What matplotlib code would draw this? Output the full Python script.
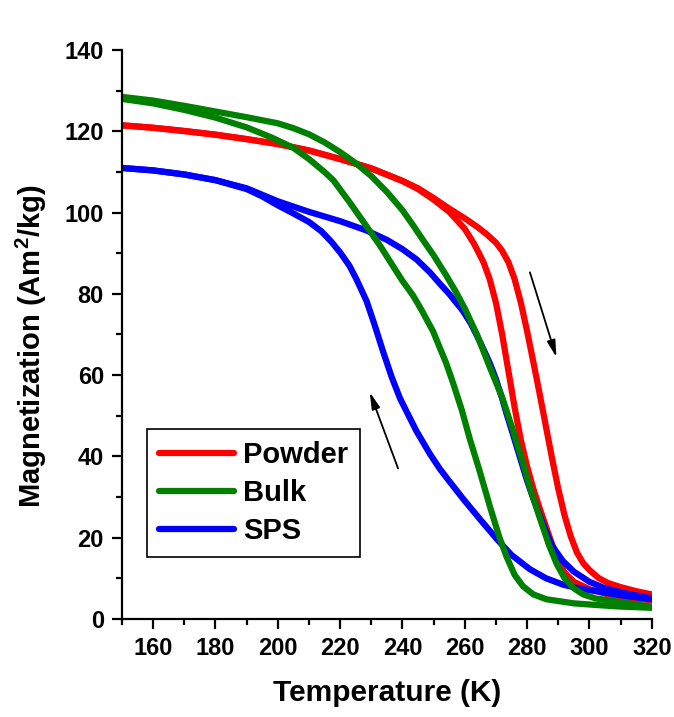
import numpy as np
import matplotlib
matplotlib.use("Agg")
import matplotlib.pyplot as plt
from matplotlib.ticker import MultipleLocator

plt.rcParams['font.family'] = ['Liberation Sans', 'DejaVu Sans']
plt.rcParams['font.weight'] = 'bold'
plt.rcParams['mathtext.fontset'] = 'custom'
plt.rcParams['mathtext.rm'] = 'Liberation Sans:bold'
plt.rcParams['mathtext.bf'] = 'Liberation Sans:bold'

# Powder: heating (outer) and cooling (inner) branches
powder_heat_T = [150, 160, 170, 180, 190, 200, 210, 220, 230, 240, 245, 250, 255, 260, 264, 267, 270,
                 272, 274, 276, 278, 280, 282, 284, 286, 288, 290, 292, 294, 296, 298, 300, 303, 306,
                 310, 315, 320]
powder_heat_M = [121.5, 120.9, 120.1, 119.2, 118.1, 116.9, 115.3, 113.2, 110.9, 107.8, 106, 103.6, 101,
                 98.6, 96.5, 94.7, 92.6, 90.6, 87.8, 83.6, 77.8, 70.8, 63.2, 55.5, 47.5, 39.5, 32, 25.5,
                 20.3, 16.3, 13.7, 12, 10, 8.8, 7.8, 6.8, 6]
powder_cool_T = [150, 160, 170, 180, 190, 200, 210, 220, 230, 240, 245, 250, 255, 260, 263, 266, 268,
                 270, 272, 274, 276, 278, 280, 282, 284, 286, 288, 290, 292, 295, 300, 306, 313, 320]
powder_cool_M = [121.5, 120.9, 120.1, 119.2, 118.1, 116.9, 115.3, 113.2, 110.9, 107.8, 105.8, 103.2, 100.2,
                 96, 92.3, 87.8, 83.6, 77.8, 70, 61, 52, 44, 37.5, 32, 27.3, 22.8, 18.4, 14.3, 11.4,
                 9.1, 7.3, 6, 5.1, 4.5]

# Bulk
bulk_heat_T = [150, 160, 170, 180, 190, 200, 205, 210, 215, 220, 225, 230, 235, 240, 243.4, 247, 250,
               254, 257, 260, 264, 268, 272, 275, 278.7, 281, 284, 287, 289.5, 292, 295, 298, 302,
               307.6, 313, 320]
bulk_heat_M = [128.5, 127.6, 126.3, 124.9, 123.5, 122, 120.8, 119.3, 117.3, 114.9, 112.2, 109, 105.1,
               100.6, 96.9, 92.8, 89.5, 84.6, 80.7, 76.4, 69.8, 62, 54.5, 47.5, 38.2, 32, 25, 18.2,
               13.5, 10, 7.5, 6, 5, 4.4, 3.7, 3]
bulk_cool_T = [150, 160, 170, 180, 190, 198, 204.9, 210, 215, 217.8, 223, 228.5, 232.7, 237, 240, 243.4,
               246, 249.8, 254, 256, 259, 261.6, 264.8, 268, 271, 273.4, 276, 278.7, 282, 286.2, 295,
               302, 310, 320]
bulk_cool_M = [128, 126.9, 125.3, 123.4, 121, 118.5, 116, 113.2, 110, 108, 102.6, 96.6, 92, 86.8, 83.2,
               79.6, 76.2, 70.8, 63, 58.6, 51.5, 44.3, 36.3, 27.8, 20.3, 15.3, 10.8, 8, 6, 4.8, 3.8,
               3.4, 3, 2.7]

# SPS
sps_heat_T = [150, 160, 170, 180, 190, 200, 210, 220, 228.5, 235, 240, 244.5, 248.8, 252, 255.2,
              259.5, 262, 265, 268, 270, 272, 273.4, 275.5, 278, 280, 282, 284, 286, 288, 291.5, 295,
              300, 305, 312, 320]
sps_heat_M = [111, 110.4, 109.4, 108, 106, 102.8, 100.2, 97.9, 95.6, 93.3, 91, 88.5, 85.3, 82.5, 79.8,
              75.7, 72.6, 68, 63, 59, 54.2, 50.5, 45.3, 39, 34, 29.6, 25.5, 21.6, 18, 14.2, 11.6, 9.1,
              7.5, 6.2, 5]
sps_cool_T = [150, 160, 170, 180, 190, 195, 200, 205, 210, 214, 217, 220, 223, 225.3, 228.5, 231, 233.7,
              236.5, 239.2, 242, 244.5, 248.8, 252, 255.2, 259.5, 265, 270.2, 275, 280.9, 286, 291.5,
              297, 303, 310, 320]
sps_cool_M = [111, 110.4, 109.4, 108, 105.8, 104, 101.8, 99.8, 97.7, 95.4, 93, 90.2, 86.9, 83.5, 78.2,
              72.5, 66, 59.6, 54.3, 50, 46.2, 40.6, 36.9, 33.7, 29.5, 24.4, 19.7, 15.7, 12.2, 10,
              8.4, 7.4, 6.7, 5.8, 4.8]

labels = ['Powder', 'Bulk', 'SPS']
colors = ['#ff0000', '#008000', '#0000ff']

fig = plt.figure(figsize=(6.74, 7.17), dpi=100)
ax = fig.add_axes([0.181, 0.137, 0.786, 0.793])

lw = 4.5
kw = dict(lw=lw, solid_capstyle='round', solid_joinstyle='round')
h_powder, = ax.plot(powder_heat_T, powder_heat_M, color=colors[0], **kw)
ax.plot(powder_cool_T, powder_cool_M, color=colors[0], **kw)
h_sps, = ax.plot(sps_heat_T, sps_heat_M, color=colors[2], **kw)
ax.plot(sps_cool_T, sps_cool_M, color=colors[2], **kw)
h_bulk, = ax.plot(bulk_heat_T, bulk_heat_M, color=colors[1], **kw)
ax.plot(bulk_cool_T, bulk_cool_M, color=colors[1], **kw)

# arrows showing heating / cooling direction
arrow = dict(arrowstyle='-|>,head_length=1.0,head_width=0.25', color='k', lw=1.3, shrinkA=0, shrinkB=0)
ax.annotate('', xy=(289.4, 64.4), xytext=(280.9, 85.3), arrowprops=arrow)
ax.annotate('', xy=(229.5, 55.8), xytext=(238.6, 37.0), arrowprops=arrow)

ax.set_xlim(150, 320)
ax.set_ylim(0, 140)
ax.xaxis.set_major_locator(MultipleLocator(20))
ax.xaxis.set_minor_locator(MultipleLocator(10))
ax.yaxis.set_major_locator(MultipleLocator(20))
ax.yaxis.set_minor_locator(MultipleLocator(10))
ax.set_xticks([160, 180, 200, 220, 240, 260, 280, 300, 320])

for s in ['top', 'right']:
    ax.spines[s].set_visible(False)
for s in ['left', 'bottom']:
    ax.spines[s].set_linewidth(1.6)
ax.tick_params(which='major', direction='out', length=7, width=1.6, labelsize=17, pad=6)
ax.tick_params(which='minor', direction='out', length=4, width=1.6)

ax.set_xlabel('Temperature (K)', fontsize=21.5, fontweight='bold', labelpad=14)
ax.set_ylabel(r'Magnetization (Am$^{\mathbf{2}}$/kg)', fontsize=21, fontweight='bold')
ax.yaxis.set_label_coords(-0.137, 0.48)

leg = ax.legend([h_powder, h_bulk, h_sps], labels, loc='lower left',
                bbox_to_anchor=(0.047, 0.109), borderaxespad=0, fontsize=21,
                handlelength=2.6, handletextpad=0.3, labelspacing=0.35, borderpad=0.4,
                fancybox=False, edgecolor='k', framealpha=1)
leg.get_frame().set_linewidth(1.2)
for t in leg.get_texts():
    t.set_fontweight('bold')

fig.savefig('out.png', dpi=100)
